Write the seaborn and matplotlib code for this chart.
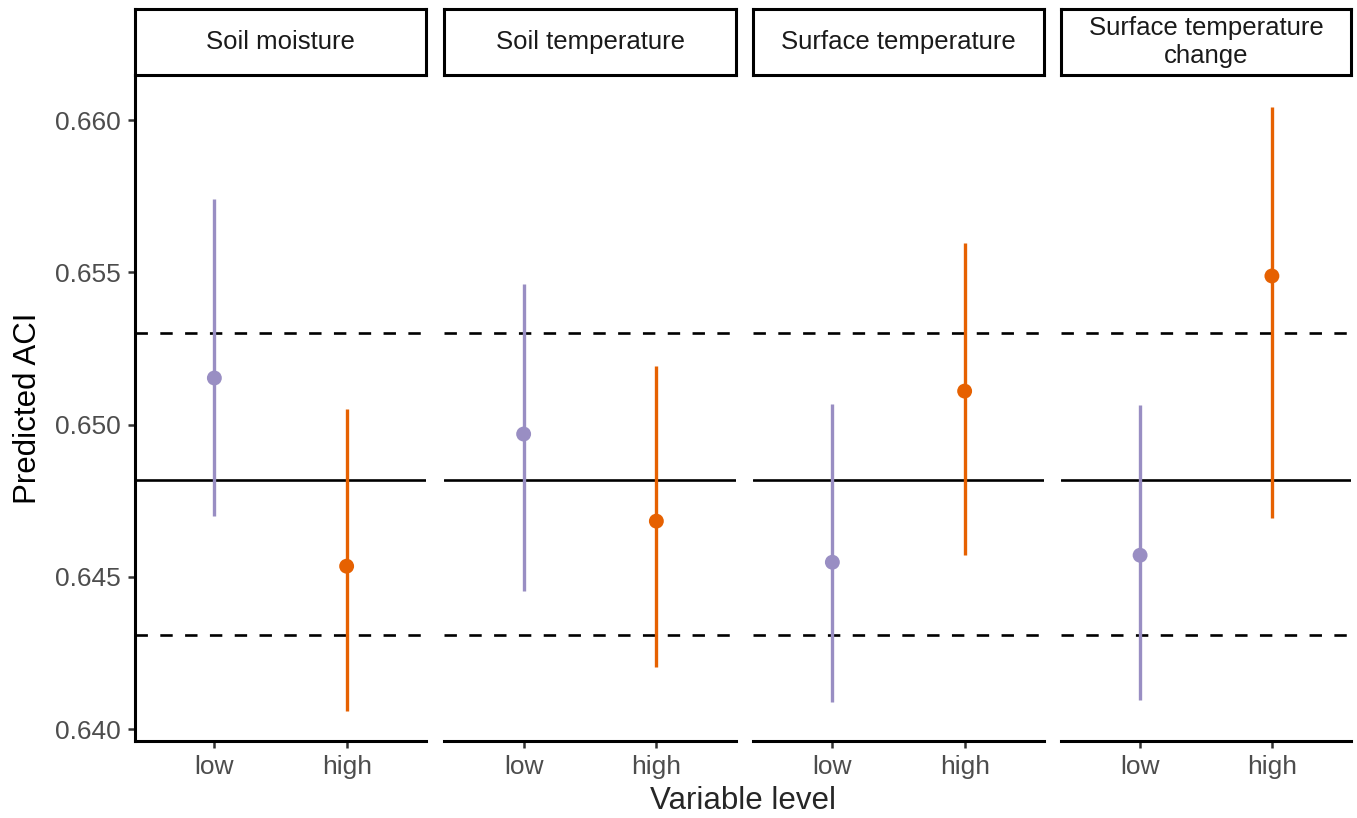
import matplotlib
matplotlib.use("Agg")
import matplotlib.pyplot as plt
import seaborn as sns
import pandas as pd

# ---- data ----
facets = ["Soil moisture", "Soil temperature", "Surface temperature", "Surface temperature\nchange"]
levels = ["low", "high"]
estimate = [[0.65153, 0.64535], [0.64969, 0.64683], [0.64548, 0.65110], [0.64571, 0.65488]]
lower = [[0.64700, 0.64059], [0.64453, 0.64204], [0.64089, 0.64571], [0.64095, 0.64693]]
upper = [[0.65741, 0.65051], [0.65461, 0.65192], [0.65067, 0.65596], [0.65064, 0.66043]]
ref_mean = 0.64818
ref_low = 0.64309
ref_high = 0.65300
yticks = [0.640, 0.645, 0.650, 0.655, 0.660]
colors = {"low": "#998ec3", "high": "#e66101"}

rows = []
for f, est, lo, hi in zip(facets, estimate, lower, upper):
    for lv, e, l, h in zip(levels, est, lo, hi):
        rows.append(dict(facet=f, level=lv, est=e, lo=l, hi=h))
df = pd.DataFrame(rows)

sns.set_theme(style="ticks")
plt.rcParams["font.family"] = ["Liberation Sans", "DejaVu Sans"]

W, H = 1357, 818
fig = plt.figure(figsize=(W / 100, H / 100), dpi=100)

panels = [(135, 426), (444, 736), (753, 1044), (1061, 1351)]
top, bottom, strip_top = 75, 741, 9
ylim = (0.63961, 0.66148)

for i, (f, (x0, x1)) in enumerate(zip(facets, panels)):
    ax = fig.add_axes([x0 / W, 1 - bottom / H, (x1 - x0) / W, (bottom - top) / H])
    sub = df[df.facet == f]
    ax.axhline(ref_mean, color="black", lw=1.9, zorder=1)
    ax.axhline(ref_low, color="black", lw=1.9, ls=(0, (4.7, 4.7)), zorder=1)
    ax.axhline(ref_high, color="black", lw=1.9, ls=(0, (4.7, 4.7)), zorder=1)
    xs = [0, 1]
    ax.vlines(xs, sub["lo"], sub["hi"], colors=[colors[l] for l in sub["level"]], lw=2.4, zorder=2)
    sns.scatterplot(data=sub, x="level", y="est", hue="level", palette=colors,
                    s=115, edgecolor="none", legend=False, ax=ax, zorder=3)
    ax.set_xlim(-0.6, 1.6)
    ax.set_ylim(*ylim)
    ax.set_yticks(yticks)
    ax.set_xticks(xs)
    ax.set_xticklabels(levels)
    ax.set_xlabel("")
    ax.set_ylabel("")
    for s in ["top", "right"]:
        ax.spines[s].set_visible(False)
    for s in ["bottom", "left"]:
        ax.spines[s].set_linewidth(2.2)
        ax.spines[s].set_color("black")
    ax.tick_params(axis="both", colors="#333333", labelcolor="#4d4d4d", labelsize=19,
                   width=1.8, length=5, pad=5)
    if i == 0:
        ax.set_yticklabels([f"{t:.3f}" for t in yticks])
        ax.set_ylabel("Predicted ACI", fontsize=22.5, color="black", labelpad=9)
    else:
        ax.spines["left"].set_visible(False)
        ax.tick_params(axis="y", left=False, labelleft=False)
    ax.set_facecolor("white")

    sax = fig.add_axes([x0 / W, 1 - top / H, (x1 - x0) / W, (top - strip_top) / H])
    sax.set_xticks([]); sax.set_yticks([])
    for s in sax.spines.values():
        s.set_linewidth(2.2); s.set_color("black"); s.set_visible(True)
    sax.set_facecolor("white")
    sax.text(0.5, 0.5, f, ha="center", va="center", fontsize=18.5, color="#1a1a1a",
             linespacing=1.2, transform=sax.transAxes)

fig.text((135 + 1351) / 2 / W, 1 - 801 / H, "Variable level", ha="center", va="center", fontsize=22.5)

fig.savefig("out.png", dpi=100, facecolor="white")
